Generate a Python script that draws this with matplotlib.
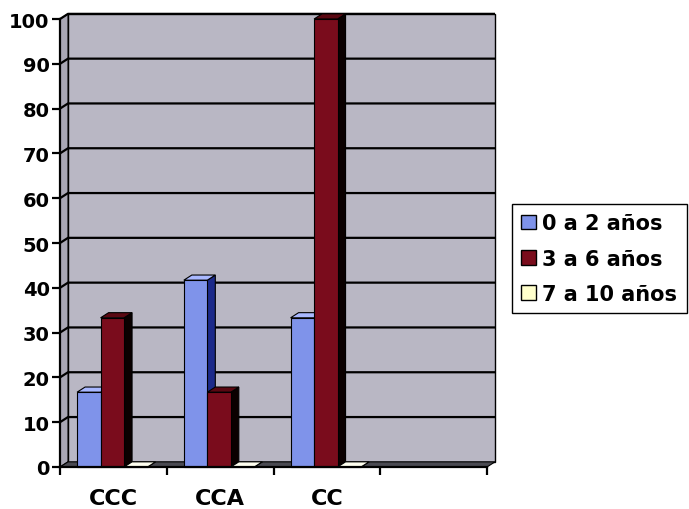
import matplotlib
matplotlib.use("Agg")
import matplotlib.pyplot as plt
from matplotlib.patches import Polygon, Patch

categories = ["CCC", "CCA", "CC"]
series_names = ["0 a 2 años", "3 a 6 años", "7 a 10 años"]
series_values = [
    [16.7, 41.7, 33.3],
    [33.3, 16.7, 100.0],
    [0.0, 0.0, 0.0],
]
y_ticks = list(range(0, 101, 10))

# front / top / side shades for each series
front_colors = ["#7f93ea", "#7a0c1c", "#ffffcc"]
top_colors = ["#a9b8ff", "#5a0812", "#fffff0"]
side_colors = ["#1c2a8a", "#0a0000", "#bdbd90"]

n_slots = 4
bar_w = 0.22
first_off = 0.16
dx, dy = 0.075, 1.15  # depth offset in data units
wall_color = "#b9b7c4"

fig = plt.figure(figsize=(6.89, 5.10), dpi=100)
ax = fig.add_axes([60 / 689, 42 / 510, 427 / 689, 448 / 510])
ax.set_xlim(0, n_slots)
ax.set_ylim(0, 100)

# back wall, side wall and floor
ax.add_patch(Polygon([(dx, dy), (n_slots + dx, dy), (n_slots + dx, 100 + dy), (dx, 100 + dy)],
                     closed=True, facecolor=wall_color, edgecolor="black", lw=1.0,
                     zorder=0.5, clip_on=False))
ax.add_patch(Polygon([(0, 0), (dx, dy), (dx, 100 + dy), (0, 100)],
                     closed=True, facecolor="#a9a7b5", edgecolor="black", lw=0.8,
                     zorder=0.5, clip_on=False))
for v in y_ticks[1:]:
    ax.plot([0, dx, n_slots + dx], [v, v + dy, v + dy], color="black", lw=1.6,
            zorder=0.6, clip_on=False, solid_capstyle="butt")
ax.add_patch(Polygon([(0, 0), (n_slots, 0), (n_slots + dx, dy), (dx, dy)],
                     closed=True, facecolor="#4a4a52", edgecolor="black", lw=0.8,
                     zorder=0.7, clip_on=False))

# 3D-looking columns
z = 1.0
for ci in range(len(categories)):
    for si, vals in enumerate(series_values):
        h = vals[ci]
        x0 = ci + first_off + si * bar_w
        x1 = x0 + bar_w
        ax.add_patch(Polygon([(x1, 0), (x1 + dx, dy), (x1 + dx, h + dy), (x1, h)],
                             closed=True, facecolor=side_colors[si], edgecolor="black",
                             lw=0.8, zorder=z, clip_on=False))
        ax.add_patch(Polygon([(x0, h), (x1, h), (x1 + dx, h + dy), (x0 + dx, h + dy)],
                             closed=True, facecolor=top_colors[si], edgecolor="black",
                             lw=0.8, zorder=z, clip_on=False))
        ax.bar(x0, h, width=bar_w, align="edge", color=front_colors[si],
               edgecolor="black", lw=0.8, zorder=z + 0.01, clip_on=False)
        z += 0.1

for side in ["top", "right"]:
    ax.spines[side].set_visible(False)
for side in ["left", "bottom"]:
    ax.spines[side].set_linewidth(1.6)
    ax.spines[side].set_zorder(20)

ax.set_yticks(y_ticks)
ax.set_yticklabels([str(v) for v in y_ticks], fontsize=14, fontweight="bold")
ax.tick_params(axis="y", length=6, width=1.6, pad=1.5)

ax.set_xticks([i + 0.5 for i in range(len(categories))])
ax.set_xticklabels(categories, fontsize=16, fontweight="bold")
ax.set_xticks(range(n_slots + 1), minor=True)
ax.tick_params(axis="x", which="major", length=0, pad=15)
ax.tick_params(axis="x", which="minor", length=6, width=1.6)

handles = [Patch(facecolor=c, edgecolor="black", lw=1.0) for c in front_colors]
fig.legend(handles, series_names, loc="upper left",
           bbox_to_anchor=(512 / 689, 1 - 205 / 510),
           prop={"weight": "bold", "size": 15}, frameon=True, fancybox=False,
           edgecolor="black", framealpha=1, borderpad=0.45, labelspacing=0.73,
           handlelength=0.7, handleheight=0.7, handletextpad=0.3, borderaxespad=0)

fig.savefig("out.png", dpi=100)
